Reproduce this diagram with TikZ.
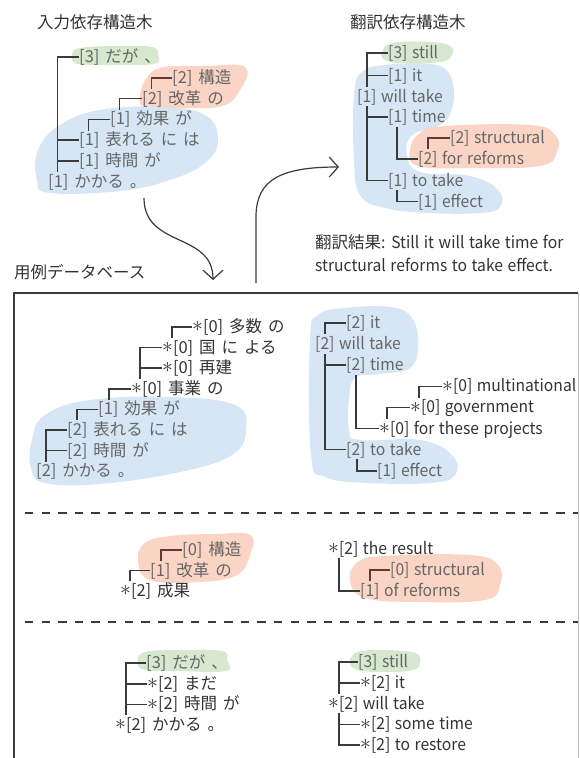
\documentclass[tikz,border=0pt]{standalone}
\usepackage{fontspec}
\setmainfont{Noto Sans CJK JP}[WordSpace=1.6]
\newfontfamily\latinf{Noto Sans CJK JP}[FakeStretch=0.95, WordSpace=1.3]
\usetikzlibrary{arrows.meta}
\definecolor{bgreen}{HTML}{D6E8CF}
\definecolor{bred}{HTML}{FAD4C4}
\definecolor{bblue}{HTML}{D6E6F5}
\definecolor{ink}{HTML}{333333}
\definecolor{soft}{HTML}{666666}
\definecolor{lnk}{HTML}{3A3A3A}
\definecolor{rlnk}{HTML}{6A3535}
\newcommand\st{\raisebox{0.8pt}{\scalebox{1.25}{$\ast$}}}
\tikzset{
  lbl/.style={anchor=west, inner sep=0pt, text height=14pt, text depth=3pt,
    font=\fontsize{16.5}{19}\selectfont, text=ink},
  btxt/.style={lbl, text=soft},
  elbl/.style={lbl, font=\latinf\fontsize{16.5}{19}\selectfont},
  ebtxt/.style={elbl, text=soft},
  ttl/.style={anchor=west, inner sep=0pt, font=\fontsize{16.5}{19}\selectfont, text=ink},
  edge/.style={draw=lnk, line width=1.6pt},
  redge/.style={edge, draw=rlnk},
  arr/.style={draw=lnk, line width=1.2pt, -{Straight Barb[length=9pt,width=20pt]}},
  sepline/.style={draw=lnk, line width=1.5pt, dash pattern=on 8.3pt off 8.3pt},
  blob/.style={smooth cycle, tension=0.7}
}
\begin{document}
\begin{tikzpicture}[x=1pt,y=-1pt]
\useasboundingbox (0,0) rectangle (579,758);
\clip (0,0) rectangle (579,758);

% ---------- blobs ----------
% top left
\fill[bgreen] plot[blob] coordinates {(72,56) (80,48) (120,46) (152,47) (158,55) (154,64) (110,65) (78,64)};
\fill[bred] plot[blob] coordinates {(140,95) (148,76) (165,67) (205,66) (245,67) (240,90) (222,106) (180,108) (145,107)};
\fill[bblue] plot[blob] coordinates {(38,150) (60,125) (100,110) (160,107) (205,115) (218,140) (205,163) (170,180) (120,191) (50,193) (37,180)};
% top right
\fill[bgreen] plot[blob] coordinates {(382,53) (392,43) (430,42) (450,46) (452,55) (440,62) (400,63) (385,60)};
\fill[bblue] plot[blob] coordinates {(354,95) (362,72) (385,65) (430,64) (450,75) (453,105) (440,125) (412,135) (407,155) (420,172) (470,176) (498,190) (500,207) (480,213) (430,213) (385,208) (360,195) (354,160)};
\fill[bred] plot[blob] coordinates {(410,150) (420,133) (445,126) (530,125) (555,135) (557,152) (540,166) (470,168) (418,166)};
% database
\fill[bblue] plot[blob] coordinates {(32,440) (45,415) (90,400) (170,397) (235,405) (246,430) (232,455) (180,472) (100,484) (45,483) (31,468)};
\fill[bblue] plot[blob] coordinates {(310,340) (318,315) (345,308) (390,307) (412,318) (418,345) (410,368) (380,374) (355,378) (349,400) (349,430) (360,440) (420,440) (452,455) (455,475) (430,483) (370,483) (325,477) (311,455)};
\fill[bred] plot[blob] coordinates {(138,560) (145,543) (170,536) (215,534) (250,535) (250,555) (237,575) (200,582) (150,580)};
\fill[bred] plot[blob] coordinates {(350,580) (358,562) (385,556) (470,555) (498,565) (500,585) (485,600) (420,602) (365,598)};
\fill[bgreen] plot[blob] coordinates {(138,662) (145,652) (180,650) (222,651) (227,660) (226,671) (180,671) (145,670)};
\fill[bgreen] plot[blob] coordinates {(350,662) (358,652) (385,650) (415,653) (420,662) (413,670) (385,672) (358,670)};

% ---------- titles ----------
\node[ttl] (t1) at (37,22) {入力依存構造木};
\node[ttl] (t2) at (350,22) {翻訳依存構造木};
\node[ttl] (r1) at (315,242) {翻訳結果{\latinf: Still it will take time for}};
\node[ttl] (r2) at (315,265) {\latinf structural reforms to take effect.};
\node[ttl] (t3) at (14,272) {用例データベース};

% ---------- box and separators ----------
\draw[draw=lnk, line width=1.8pt] (14,780) -- (14,293) -- (578,293);
\draw[draw=lnk!35, line width=1pt] (578,293) -- (578,780);
\coordinate (s1a) at (25,513); \coordinate (s1b) at (578,513);
\coordinate (s2a) at (25,622); \coordinate (s2b) at (578,622);
\draw[sepline] (s1a) -- (s1b);
\draw[sepline] (s2a) -- (s2b);

% ---------- arrows ----------
\coordinate (pa0) at (144,198); \coordinate (pa1) at (213,280);
\draw[arr] (pa0) .. controls (144,248) and (213,232) .. (pa1);
\coordinate (pb0) at (256,283); \coordinate (pb1) at (256,215); \coordinate (pb2) at (339,167);
\draw[arr] (pb0) -- (pb1) .. controls (257,180) and (280,167) .. (pb2);

% ---------- tree A (input) ----------
\node[btxt] (a1) at (79,57) {[3] だが 、};
\node[btxt] (a2) at (172,78) {[2] 構造};
\node[btxt] (a3) at (142,98.6) {[2] 改革 の};
\node[btxt] (a4) at (110,119.4) {[1] 効果 が};
\node[btxt] (a5) at (79,140.2) {[1] 表れる に は};
\node[btxt] (a6) at (79,161) {[1] 時間 が};
\node[btxt] (a7) at (48,181.8) {[1] かかる 。};
\draw[edge] (a1.west) -| ([xshift=9.5pt,yshift=1pt]a7.north west);
\draw[edge] (a5.west) -| ([xshift=9.5pt,yshift=1pt]a7.north west);
\draw[edge] (a6.west) -| ([xshift=9.5pt,yshift=1pt]a7.north west);
\draw[redge] (a2.west) -| ([xshift=9.5pt,yshift=1pt]a3.north west);
\draw[edge] (a3.west) -| ([xshift=9.5pt,yshift=1pt]a4.north west);
\draw[edge] (a4.west) -| ([xshift=9.5pt,yshift=1pt]a5.north west);

% ---------- tree B (translation) ----------
\node[ebtxt] (b1) at (388,53) {[3] still};
\node[ebtxt] (b2) at (388,75.5) {[1] it};
\node[ebtxt] (b3) at (357,96.5) {[1] will take};
\node[ebtxt] (b4) at (388,117) {[1] time};
\node[ebtxt] (b5) at (450,138) {[2] structural};
\node[ebtxt] (b6) at (418,159) {[2] for reforms};
\node[ebtxt] (b7) at (388,180.5) {[1] to take};
\node[ebtxt] (b8) at (418,201.5) {[1] effect};
\draw[edge] (b1.west) -| ([xshift=10pt,yshift=1pt]b3.north west);
\draw[edge] (b2.west) -| ([xshift=10pt,yshift=1pt]b3.north west);
\draw[edge] (b4.west) -| ([xshift=10pt,yshift=-1pt]b3.south west);
\draw[edge] (b7.west) -| ([xshift=10pt,yshift=-1pt]b3.south west);
\draw[edge] (b6.west) -| ([xshift=9pt,yshift=-1pt]b4.south west);
\draw[edge] (b8.west) -| ([xshift=9pt,yshift=-1pt]b7.south west);
\draw[redge] (b5.west) -| ([xshift=10pt,yshift=1pt]b6.north west);

% ---------- database tree C ----------
\node[lbl] (c1) at (192,327) {\st[0] 多数 の};
\node[lbl] (c2) at (162,347.6) {\st[0] 国 に よる};
\node[lbl] (c3) at (162,368.2) {\st[0] 再建};
\node[lbl] (c4) at (131,388.8) {\st[0] 事業 の};
\node[btxt] (c5) at (98,409.4) {[1] 効果 が};
\node[btxt] (c6) at (67,430) {[2] 表れる に は};
\node[btxt] (c7) at (67,450.6) {[2] 時間 が};
\node[btxt] (c8) at (36,471.2) {[2] かかる 。};
\draw[edge] (c1.west) -| ([xshift=10pt,yshift=1pt]c2.north west);
\draw[edge] (c2.west) -| ([xshift=9pt,yshift=1pt]c4.north west);
\draw[edge] (c3.west) -| ([xshift=9pt,yshift=1pt]c4.north west);
\draw[edge] (c4.west) -| ([xshift=11pt,yshift=1pt]c5.north west);
\draw[edge] (c5.west) -| ([xshift=10pt,yshift=1pt]c6.north west);
\draw[edge] (c6.west) -| ([xshift=10pt,yshift=1pt]c8.north west);
\draw[edge] (c7.west) -| ([xshift=10pt,yshift=1pt]c8.north west);

% ---------- database tree D ----------
\node[ebtxt] (d1) at (346,323) {[2] it};
\node[ebtxt] (d2) at (315,344.1) {[2] will take};
\node[ebtxt] (d3) at (346,365.2) {[2] time};
\node[elbl] (d4) at (442,386.3) {\st[0] multinational};
\node[elbl] (d5) at (410,407.4) {\st[0] government};
\node[elbl] (d6) at (379,428.5) {\st[0] for these projects};
\node[ebtxt] (d7) at (346,449.6) {[2] to take};
\node[ebtxt] (d8) at (377,470.7) {[1] effect};
\draw[edge] (d1.west) -| ([xshift=10pt,yshift=1pt]d2.north west);
\draw[edge] (d3.west) -| ([xshift=10pt,yshift=-1pt]d2.south west);
\draw[edge] (d7.west) -| ([xshift=10pt,yshift=-1pt]d2.south west);
\draw[edge] (d6.west) -| ([xshift=10pt,yshift=-1pt]d3.south west);
\draw[edge] (d4.west) -| ([xshift=9pt,yshift=1pt]d5.north west);
\draw[edge] (d5.west) -| ([xshift=8pt,yshift=1pt]d6.north west);
\draw[edge] (d8.west) -| ([xshift=11pt,yshift=-1pt]d7.south west);

% ---------- database tree E ----------
\node[btxt] (e1) at (182,550) {[0] 構造};
\node[btxt] (e2) at (150,570.5) {[1] 改革 の};
\node[lbl] (e3) at (120,591) {\st[2] 成果};
\draw[redge] (e1.west) -| ([xshift=11pt,yshift=1pt]e2.north west);
\draw[edge] (e2.west) -| ([xshift=10pt,yshift=1pt]e3.north west);

% ---------- database tree F ----------
\node[elbl] (f1) at (328,548.5) {\st[2] the result};
\node[ebtxt] (f2) at (390,570) {[0] structural};
\node[ebtxt] (f3) at (360,591) {[1] of reforms};
\draw[edge] (f3.west) -| ([xshift=11pt,yshift=-1pt]f1.south west);
\draw[redge] (f2.west) -| ([xshift=10pt,yshift=1pt]f3.north west);

% ---------- database tree G ----------
\node[btxt] (g1) at (146,663) {[3] だが 、};
\node[lbl] (g2) at (147,683.7) {\st[2] まだ};
\node[lbl] (g3) at (147,704.3) {\st[2] 時間 が};
\node[lbl] (g4) at (115,725) {\st[2] かかる 。};
\draw[edge] (g1.west) -| ([xshift=11pt,yshift=1pt]g4.north west);
\draw[edge] (g2.west) -| ([xshift=11pt,yshift=1pt]g4.north west);
\draw[edge] (g3.west) -| ([xshift=11pt,yshift=1pt]g4.north west);

% ---------- database tree H ----------
\node[ebtxt] (h1) at (358,662) {[3] still};
\node[elbl] (h2) at (360,682.8) {\st[2] it};
\node[elbl] (h3) at (328,703.6) {\st[2] will take};
\node[elbl] (h4) at (360,724.4) {\st[2] some time};
\node[elbl] (h5) at (360,745.2) {\st[2] to restore};
\draw[edge] (h1.west) -| ([xshift=11pt,yshift=1pt]h3.north west);
\draw[edge] (h2.west) -| ([xshift=11pt,yshift=1pt]h3.north west);
\draw[edge] (h4.west) -| ([xshift=11pt,yshift=-1pt]h3.south west);
\draw[edge] (h5.west) -| ([xshift=11pt,yshift=-1pt]h3.south west);
\end{tikzpicture}
\end{document}
